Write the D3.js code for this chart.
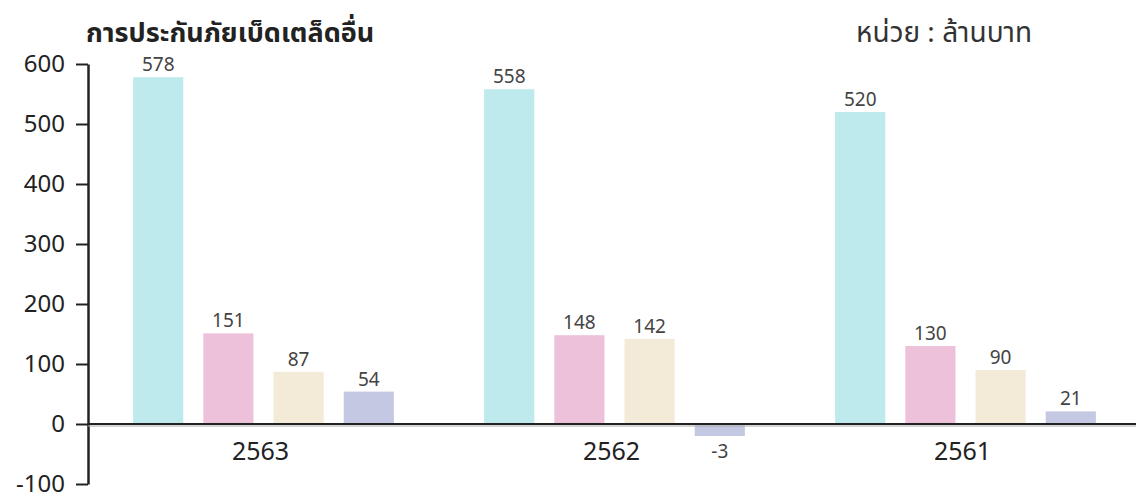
<!DOCTYPE html>
<meta charset="utf-8">
<script src="https://d3js.org/d3.v7.min.js"></script>
<style>
  body { margin: 0; background: #fff; }
  text { font-family: "Noto Sans", "Noto Sans Thai", sans-serif; }
</style>
<svg id="chart" width="1136" height="495"></svg>
<script>
// data
const years = ["2563", "2562", "2561"];
const seriesKeys = ["s1", "s2", "s3", "s4"];
const s1 = [578, 558, 520];
const s2 = [151, 148, 130];
const s3 = [87, 142, 90];
const s4 = [54, -3, 21];
const yTicks = [-100, 0, 100, 200, 300, 400, 500, 600];
const title = "การประกันภัยเบ็ดเตล็ดอื่น";
const unit = "หน่วย : ล้านบาท";

const colors = ["#bfeaed", "#eec1db", "#f3ead8", "#c4c8e2"];
const minBar = 12; // smallest drawn bar height, px

const svg = d3.select("#chart");
const values = [s1, s2, s3, s4];
const rows = years.map((y, i) => ({ year: y, vals: values.map(v => v[i]) }));

const x0 = d3.scaleBand().domain(years).range([88, 1141])
  .paddingInner(0.2).paddingOuter(0.1);
const x1 = d3.scaleBand().domain(seriesKeys).range([0, x0.bandwidth()])
  .paddingInner(0.2857).paddingOuter(0.143);
const y = d3.scaleLinear().domain([-100, 600]).range([484, 64]);

// y axis
const yAxis = svg.append("g").attr("transform", "translate(88,0)")
  .call(d3.axisLeft(y).tickValues(yTicks).tickFormat(d => String(d))
    .tickSize(12).tickPadding(11).tickSizeOuter(0));
yAxis.select(".domain").attr("stroke", "#222").attr("stroke-width", 2.5);
yAxis.selectAll(".tick line").attr("stroke", "#222").attr("stroke-width", 2);
yAxis.selectAll(".tick text").attr("font-size", 24).attr("fill", "#222")
  .style("font-family", "'Noto Sans', sans-serif");

// bars
const g = svg.append("g").selectAll("g").data(rows).join("g")
  .attr("transform", d => `translate(${x0(d.year)},0)`);

g.selectAll("rect").data(d => d.vals.map((v, k) => ({ v, k })))
  .join("rect")
  .attr("x", d => x1(seriesKeys[d.k]))
  .attr("width", x1.bandwidth())
  .attr("y", d => d.v >= 0 ? y(d.v) : y(0))
  .attr("height", d => Math.max(Math.abs(y(d.v) - y(0)), minBar))
  .attr("fill", d => colors[d.k]);

g.selectAll("text.val").data(d => d.vals.map((v, k) => ({ v, k })))
  .join("text")
  .attr("class", "val")
  .attr("x", d => x1(seriesKeys[d.k]) + x1.bandwidth() / 2)
  .attr("y", d => d.v >= 0 ? y(d.v) - 6 : y(0) + Math.max(Math.abs(y(d.v) - y(0)), minBar) + 22)
  .attr("text-anchor", "middle")
  .attr("font-size", 19)
  .attr("fill", "#444")
  .text(d => d.v);

// zero line
svg.append("line").attr("x1", 88).attr("x2", 1136)
  .attr("y1", y(0)).attr("y2", y(0))
  .attr("stroke", "#222").attr("stroke-width", 2);
svg.append("line").attr("x1", 88).attr("x2", 1136)
  .attr("y1", y(0) + 2).attr("y2", y(0) + 2)
  .attr("stroke", "#aaa").attr("stroke-width", 1);

// category labels
svg.append("g").selectAll("text").data(years).join("text")
  .attr("x", d => x0(d) + x0.bandwidth() / 2 - 3)
  .attr("y", 460)
  .attr("text-anchor", "middle")
  .attr("font-size", 25)
  .attr("fill", "#222")
  .text(d => d);

// titles
svg.append("text").attr("x", 86).attr("y", 42)
  .attr("font-size", 27).attr("font-weight", "bold").attr("fill", "#222")
  .text(title);
svg.append("text").attr("x", 1032).attr("y", 42).attr("text-anchor", "end")
  .attr("font-size", 28).attr("fill", "#333")
  .text(unit);
</script>
